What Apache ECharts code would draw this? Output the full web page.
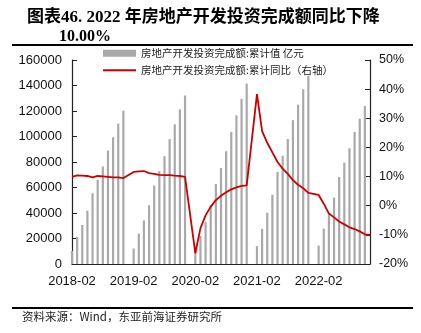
<!DOCTYPE html>
<html>
<head>
<meta charset="utf-8">
<script src="https://cdn.jsdelivr.net/npm/echarts@6/dist/echarts.min.js"></script>
<style>
html,body{margin:0;padding:0;background:#fff;}
#c{width:421px;height:333px;}
</style>
</head>
<body>
<div id="c"></div>
<script>
// ---- data ----
var years = ['2018', '2019', '2020', '2021', '2022'];
var months = ['01','02','03','04','05','06','07','08','09','10','11','12'];
var categories = [];
years.forEach(function (y, i) {
  months.forEach(function (m, j) {
    if (i === 0 && j === 0) return; // series starts 2018-02
    categories.push(y + '-' + m);
  });
});
var xTickLabels = ['2018-02', '2019-02', '2020-02', '2021-02', '2022-02'];
var leftTicks = [0, 20000, 40000, 60000, 80000, 100000, 120000, 140000, 160000];
var rightTicks = [-20, -10, 0, 10, 20, 30, 40, 50];

// 房地产开发投资完成额:累计值 (亿元), January has no data
var cumValue = [
  10255, 21291, 30592, 41775, 55531, 66009, 76519, 88948, 99325, 110083, 120264,
  null, 12090, 23803, 34217, 46075, 61609, 72843, 84589, 98008, 109603, 121265, 132194,
  null, 10115, 21963, 33103, 45920, 62780, 75325, 88454, 103484, 116556, 129492, 141443,
  null, 13986, 27576, 40240, 54318, 72179, 84895, 98060, 112834, 124934, 137086, 147602,
  null, 14499, 27765, 39154, 52134, 68314, 79462, 90809, 103559, 113945, 123863, null
];
// 房地产开发投资完成额:累计同比 (%)
var cumYoY = [
  9.9, 10.4, 10.3, 10.2, 9.7, 10.2, 10.1, 9.9, 9.7, 9.7, 9.5,
  null, 11.6, 11.8, 11.9, 11.2, 10.9, 10.6, 10.5, 10.5, 10.3, 10.2, 9.9,
  null, -16.3, -7.7, -3.3, -0.3, 1.9, 3.4, 4.6, 5.6, 6.3, 6.8, 7.0,
  null, 38.3, 25.6, 21.6, 18.3, 15.0, 12.7, 10.9, 8.8, 7.2, 6.0, 4.4,
  null, 3.7, 0.7, -2.7, -4.0, -5.4, -6.4, -7.4, -8.0, -8.8, -9.8, -10.0
];
var seriesNames = ['房地产开发投资完成额:累计值 亿元', '房地产开发投资完成额:累计同比（右轴）'];
var titleLine1 = '图表46. 2022 年房地产开发投资完成额同比下降';
var titleLine2 = '10.00%';
var sourceText = '资料来源：Wind，东亚前海证券研究所';

var serifCJK = '"Liberation Serif", "Noto Sans CJK SC", serif';
var sansCJK = '"Noto Sans CJK SC", sans-serif';
var axisFont = '"Liberation Sans", Arial, sans-serif';
var legendText = {fontFamily: sansCJK, fontSize: 10.5, color: '#222'};

var chart = echarts.init(document.getElementById('c'), null, {renderer: 'canvas'});
chart.setOption({
  backgroundColor: '#fff',
  animation: false,
  title: [
    {text: titleLine1, left: 22, top: 4,
     textStyle: {fontFamily: serifCJK, fontWeight: 'bold', fontSize: 17, color: '#000'}},
    {text: titleLine2, left: 54, top: 24,
     textStyle: {fontFamily: serifCJK, fontWeight: 'bold', fontSize: 16, color: '#000'}}
  ],
  graphic: [
    {type: 'line', shape: {x1: 12, y1: 45, x2: 413, y2: 45}, style: {stroke: '#000', lineWidth: 2}},
    {type: 'line', shape: {x1: 12, y1: 308, x2: 413, y2: 308}, style: {stroke: '#000', lineWidth: 2}},
    {type: 'text', left: 22, top: 311,
     style: {text: sourceText, font: '11.5px ' + sansCJK, fill: '#222'}}
  ],
  legend: [
    {left: 103, top: 48, padding: 0, itemWidth: 33, itemHeight: 7, textStyle: legendText,
     data: [{name: seriesNames[0], icon: 'rect'}]},
    {left: 103, top: 65, padding: 0, itemWidth: 33, itemHeight: 2, textStyle: legendText,
     data: [{name: seriesNames[1], icon: 'rect', itemStyle: {color: '#cc0000'}}]}
  ],
  grid: {left: 72, right: 51, top: 60, bottom: 69},
  xAxis: {
    type: 'category', data: categories, boundaryGap: false,
    axisLine: {lineStyle: {color: '#222', width: 1.2}},
    axisTick: {show: false},
    axisLabel: {
      interval: 0, margin: 11, fontFamily: axisFont, fontSize: 13, color: '#111',
      formatter: function (v) { return xTickLabels.indexOf(v) >= 0 ? v : ''; }
    },
    splitLine: {show: false}
  },
  yAxis: [
    {type: 'value', min: leftTicks[0], max: leftTicks[leftTicks.length - 1], interval: 20000,
     axisLine: {show: true, lineStyle: {color: '#222', width: 1.2}},
     axisTick: {show: true, inside: true, length: 5, lineStyle: {color: '#222'}},
     axisLabel: {fontFamily: axisFont, fontSize: 13, color: '#111', margin: 10,
                 formatter: function (v) { return String(v); }},
     splitLine: {show: false}},
    {type: 'value', min: rightTicks[0], max: rightTicks[rightTicks.length - 1], interval: 10,
     axisLine: {show: true, lineStyle: {color: '#222', width: 1.2}},
     axisTick: {show: true, inside: true, length: 5, lineStyle: {color: '#222'}},
     axisLabel: {fontFamily: axisFont, fontSize: 12.5, color: '#111', margin: 9, formatter: '{value}%'},
     splitLine: {show: false}}
  ],
  series: [
    {name: seriesNames[0], type: 'bar', data: cumValue, yAxisIndex: 0,
     barWidth: 2.2, itemStyle: {color: '#a9a9a9'}, z: 2},
    {name: seriesNames[1], type: 'line', data: cumYoY, yAxisIndex: 1,
     connectNulls: true, symbol: 'none', smooth: false,
     lineStyle: {color: '#cc0000', width: 1.8}, itemStyle: {color: '#cc0000'}, z: 3}
  ]
});
</script>
</body>
</html>
